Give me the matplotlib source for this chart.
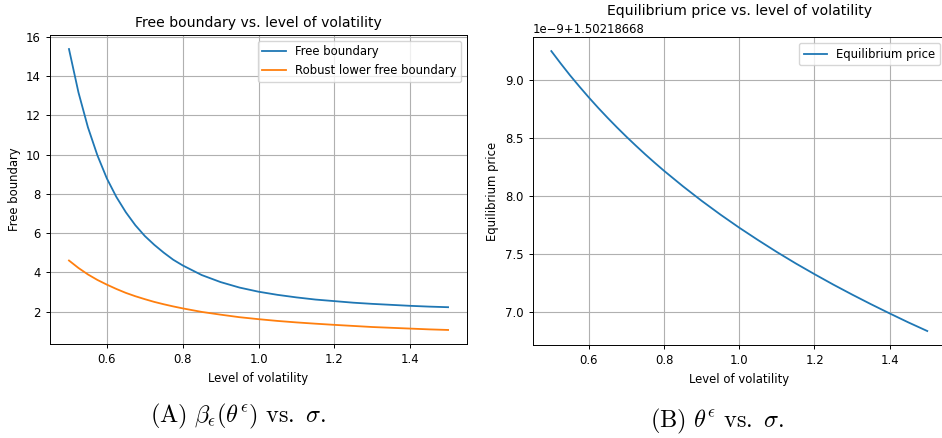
import matplotlib
matplotlib.use('Agg')
import matplotlib.pyplot as plt

# volatility grid
sigma = [0.500, 0.525, 0.550, 0.575, 0.600, 0.625, 0.650, 0.675, 0.700, 0.725,
         0.750, 0.775, 0.800, 0.85, 0.90, 0.95, 1.00, 1.05, 1.10, 1.15, 1.20,
         1.25, 1.30, 1.35, 1.40, 1.45, 1.50]

# panel A
free_boundary = [15.38, 13.17, 11.39, 9.96, 8.78, 7.84, 7.06, 6.40, 5.85, 5.40,
                 5.00, 4.64, 4.35, 3.86, 3.50, 3.22, 3.01, 2.85, 2.72, 2.61, 2.53,
                 2.45, 2.39, 2.34, 2.29, 2.25, 2.22]
robust_lower = [4.60, 4.22, 3.89, 3.61, 3.37, 3.15, 2.95, 2.78, 2.63, 2.49,
                2.37, 2.26, 2.16, 1.98, 1.84, 1.71, 1.61, 1.52, 1.445, 1.38, 1.32,
                1.265, 1.21, 1.17, 1.13, 1.09, 1.06]

# panel B
eq_price = [1.502186689249, 1.502186689142, 1.502186689039, 1.502186688942,
            1.502186688848, 1.502186688758, 1.502186688672, 1.502186688589,
            1.502186688509, 1.502186688432, 1.502186688357, 1.502186688285,
            1.502186688215, 1.502186688082, 1.502186687956, 1.502186687837,
            1.502186687724, 1.502186687617, 1.502186687514, 1.502186687416,
            1.502186687323, 1.502186687233, 1.502186687147, 1.502186687064,
            1.502186686984, 1.502186686906, 1.502186686832]

fs = 8.4
plt.rcParams['font.size'] = fs
plt.rcParams['mathtext.fontset'] = 'cm'
plt.rcParams['axes.linewidth'] = 0.7
plt.rcParams['xtick.major.size'] = 3
plt.rcParams['ytick.major.size'] = 3
plt.rcParams['xtick.major.width'] = 0.7
plt.rcParams['ytick.major.width'] = 0.7

fig = plt.figure(figsize=(9.42, 4.38), dpi=100)

ax1 = fig.add_axes([0.0531, 0.2146, 0.4427, 0.7055])
ax1.plot(sigma, free_boundary, color='#1f77b4', lw=1.3, label='Free boundary')
ax1.plot(sigma, robust_lower, color='#ff7f0e', lw=1.3, label='Robust lower free boundary')
ax1.set_title('Free boundary vs. level of volatility', fontsize=10.1)
ax1.set_xlabel('Level of volatility', fontsize=fs)
ax1.set_ylabel('Free boundary', fontsize=fs)
ax1.grid(True)
ax1.legend(loc='upper right', fontsize=fs)

ax2 = fig.add_axes([0.5653, 0.2123, 0.439, 0.703])
ax2.plot(sigma, eq_price, color='#1f77b4', lw=1.3, label='Equilibrium price')
ax2.set_title('Equilibrium price vs. level of volatility', fontsize=10.1)
ax2.set_xlabel('Level of volatility', fontsize=fs)
ax2.set_ylabel('Equilibrium price', fontsize=fs)
ax2.grid(True)
ax2.legend(loc='upper right', fontsize=fs)

# captions under the panels
fig.text(0.253, 0.049, r'$\mathrm{(A)}\ \beta_\epsilon(\theta^\epsilon)\ \mathrm{vs.}\ \sigma.$',
         ha='center', va='center', fontsize=17.5)
fig.text(0.761, 0.037, r'$\mathrm{(B)}\ \theta^\epsilon\ \mathrm{vs.}\ \sigma.$',
         ha='center', va='center', fontsize=17.5)

fig.savefig('out.png', dpi=100)
